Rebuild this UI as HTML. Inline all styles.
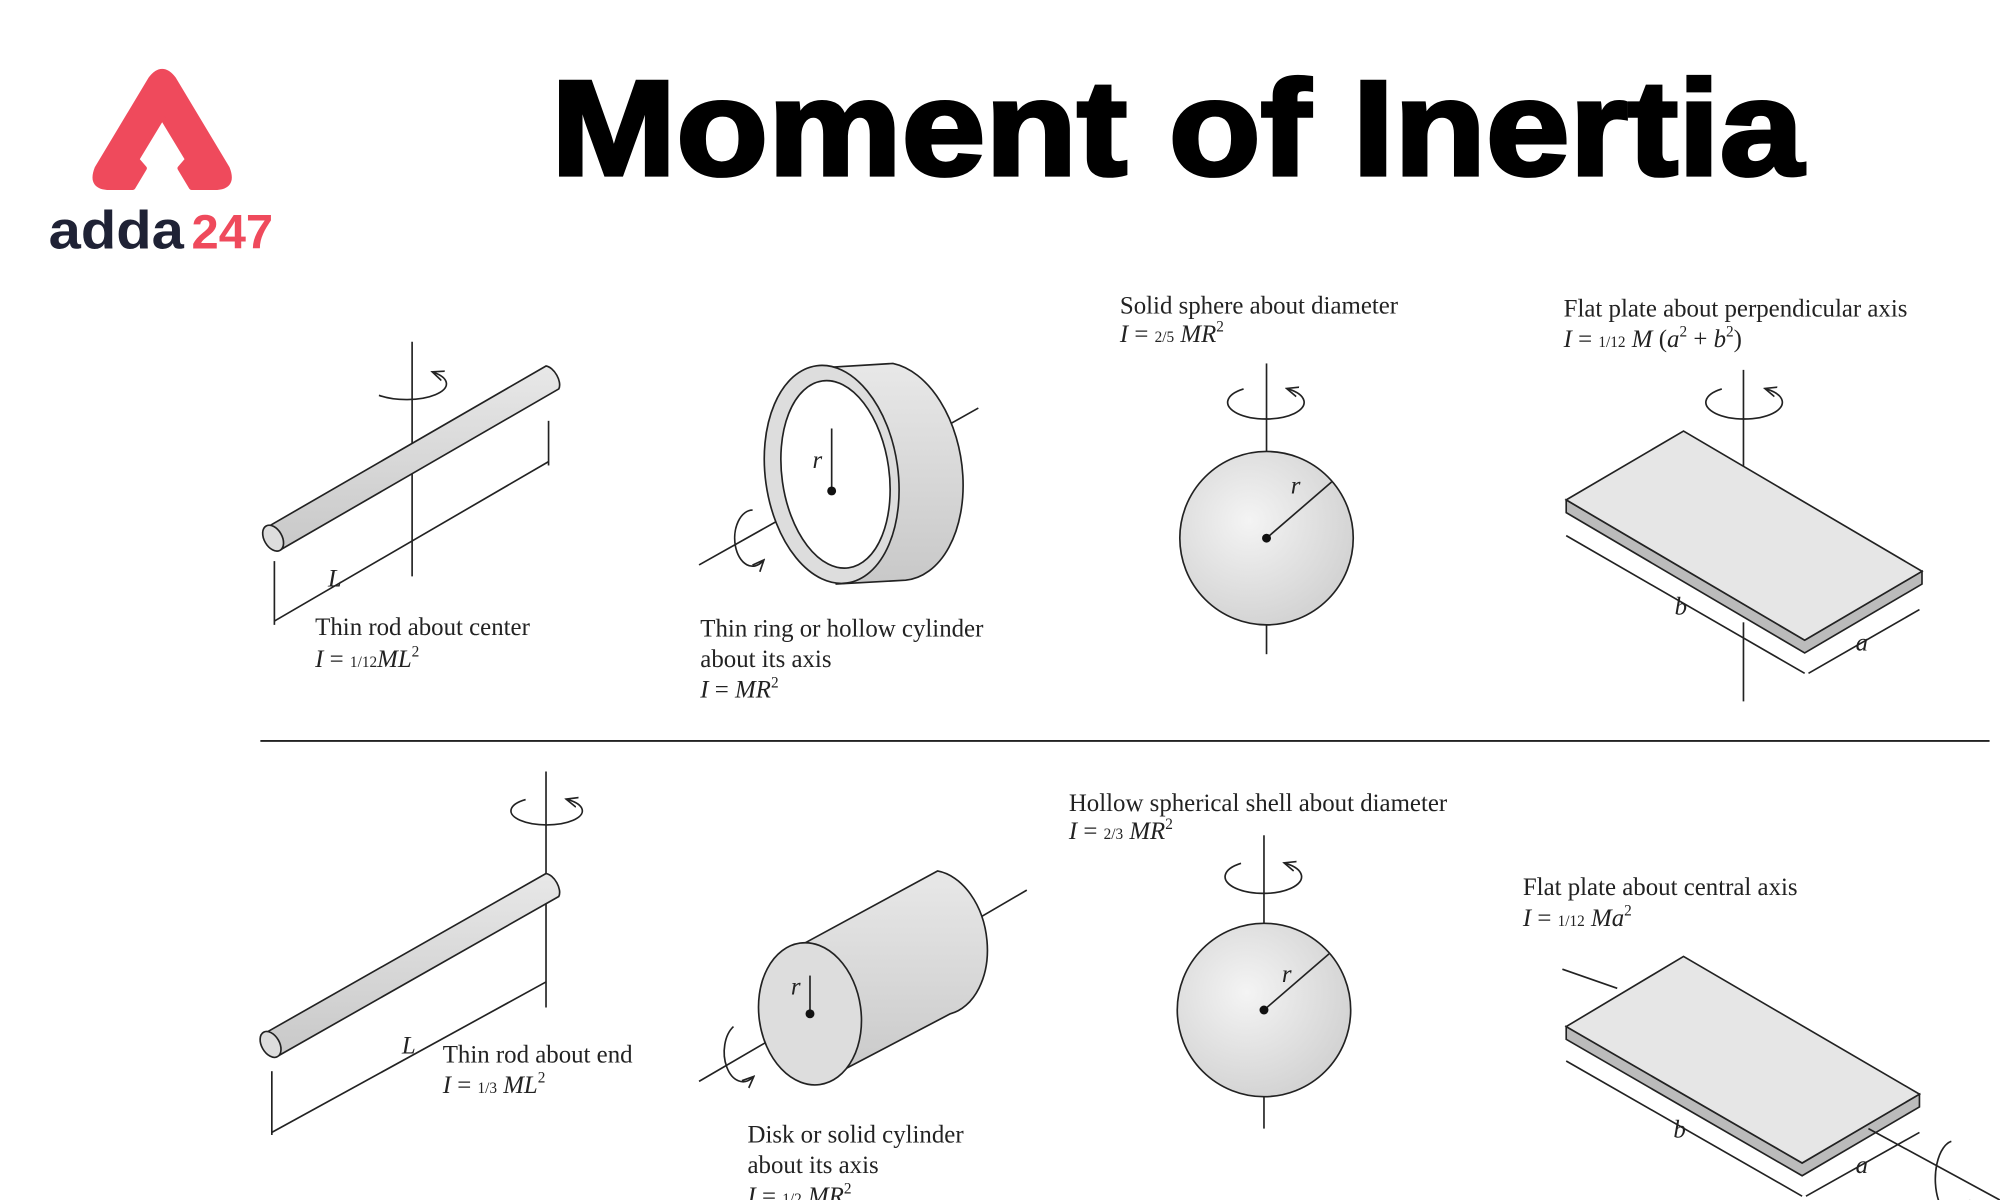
<!DOCTYPE html>
<html><head><meta charset="utf-8"><style>
html,body{margin:0;padding:0;background:#fff;}
svg{display:block}
.t{font-family:"Liberation Serif",serif;font-size:19.5px;fill:#222}
.i{font-style:italic}
.s{font-size:12px}
</style></head><body>
<svg width="2000" height="1200" viewBox="0 0 1568 941" xmlns="http://www.w3.org/2000/svg">
<defs>
<radialGradient id="sg" cx="0.4" cy="0.4" r="0.7"><stop offset="0" stop-color="#f4f4f4"/><stop offset="1" stop-color="#cfcfcf"/></radialGradient>
<linearGradient id="cg" x1="0" y1="0" x2="0" y2="1"><stop offset="0" stop-color="#e8e8e8"/><stop offset="1" stop-color="#c8c8c8"/></linearGradient>
<marker id="ah" markerWidth="8" markerHeight="8" refX="6" refY="4" orient="auto"><path d="M0,1 L7,4 L0,7" fill="none" stroke="#222" stroke-width="1"/></marker>
</defs>
<!-- logo -->
<path d="M118,62 Q127,50 136,62 L178,132 Q184,147 168,147 L150,147 L141,132 L147,125 L127,92 L107,125 L113,132 L104,147 L86,147 Q70,147 76,132 Z" fill="#ef4a5c" stroke="#ef4a5c" stroke-width="4" stroke-linejoin="round"/>
<text x="38" y="195" font-family="Liberation Sans,sans-serif" font-weight="bold" font-size="42" fill="#1f2235" textLength="106" lengthAdjust="spacingAndGlyphs">adda</text>
<text x="150" y="195" font-family="Liberation Sans,sans-serif" font-weight="bold" font-size="38" fill="#ef4a5c" textLength="64" lengthAdjust="spacingAndGlyphs">247</text>
<!-- title -->
<text x="432" y="137" font-family="Liberation Sans,sans-serif" font-weight="bold" font-size="106" fill="#000" stroke="#000" stroke-width="3" textLength="982" lengthAdjust="spacingAndGlyphs">Moment of Inertia</text>

<g stroke="#222" stroke-width="1.3" fill="none">
<!-- rod 1 -->
<line x1="323" y1="268" x2="323" y2="452"/>
<path d="M210,413 L428,287 A6,11 -30 0 1 438,305 L220,431" fill="url(#cg)"/>
<ellipse cx="214" cy="422" rx="7" ry="11" transform="rotate(-30 214 422)" fill="#ddd"/>
<path d="M297,310 A28,11 0 1 0 340,292" marker-end="url(#ah)"/>
<line x1="215" y1="487" x2="430" y2="362"/><line x1="215" y1="440" x2="215" y2="490"/><line x1="430" y1="330" x2="430" y2="365"/>
<!-- ring -->
<line x1="548" y1="443" x2="767" y2="320"/>
<path d="M650,288 L700,285 A55,86 -8 0 1 710,455 L655,458" fill="url(#cg)"/>
<ellipse cx="652" cy="372" rx="52" ry="86" transform="rotate(-8 652 372)" fill="#ddd"/>
<ellipse cx="655" cy="372" rx="42" ry="74" transform="rotate(-8 655 372)" fill="#fff"/>
<line x1="652" y1="385" x2="652" y2="336"/>
<path d="M590,400 A14,22 0 1 0 598,440" marker-end="url(#ah)"/>
<!-- sphere 1 -->
<line x1="993" y1="285" x2="993" y2="365"/><line x1="993" y1="480" x2="993" y2="513"/>
<circle cx="993" cy="422" r="68" fill="url(#sg)"/>
<line x1="993" y1="422" x2="1044" y2="378"/>
<path d="M975,305 A30,13 0 1 0 1010,305" marker-end="url(#ah)"/>
<!-- plate 1 -->
<line x1="1367" y1="290" x2="1367" y2="418"/>
<path d="M1228,392 L1228,402 L1415,512 L1507,458 L1507,448 L1415,502 Z" fill="#bbb"/>
<path d="M1228,392 L1320,338 L1507,448 L1415,502 Z" fill="#e6e6e6"/>
<line x1="1367" y1="488" x2="1367" y2="550"/>
<path d="M1350,305 A30,13 0 1 0 1385,305" marker-end="url(#ah)"/>
<line x1="1228" y1="420" x2="1415" y2="528"/><line x1="1418" y1="528" x2="1505" y2="478"/>
<!-- divider -->
<line x1="204" y1="581" x2="1560" y2="581" stroke-width="1.5"/>
<!-- rod 2 -->
<line x1="428" y1="605" x2="428" y2="790"/>
<path d="M208,810 L428,685 A6,11 -30 0 1 438,703 L218,828" fill="url(#cg)"/>
<ellipse cx="212" cy="819" rx="7" ry="11" transform="rotate(-30 212 819)" fill="#ddd"/>
<path d="M412,627 A28,11 0 1 0 445,627" marker-end="url(#ah)"/>
<line x1="213" y1="888" x2="428" y2="770"/><line x1="213" y1="840" x2="213" y2="890"/>
<!-- disk -->
<line x1="548" y1="848" x2="805" y2="698"/>
<path d="M630,740 L735,683 A40,57 -8 0 1 745,795 L640,850" fill="url(#cg)"/>
<ellipse cx="635" cy="795" rx="40" ry="56" transform="rotate(-8 635 795)" fill="#ddd"/>
<line x1="635" y1="795" x2="635" y2="765"/>
<path d="M575,805 A14,22 0 1 0 590,845" marker-end="url(#ah)"/>
<!-- sphere 2 -->
<line x1="991" y1="655" x2="991" y2="735"/><line x1="991" y1="850" x2="991" y2="885"/>
<circle cx="991" cy="792" r="68" fill="url(#sg)"/>
<line x1="991" y1="792" x2="1042" y2="748"/>
<path d="M973,677 A30,13 0 1 0 1008,677" marker-end="url(#ah)"/>
<!-- plate 2 -->
<line x1="1225" y1="760" x2="1268" y2="775"/>
<path d="M1228,805 L1228,815 L1413,922 L1505,868 L1505,858 L1413,912 Z" fill="#bbb"/>
<path d="M1228,805 L1320,750 L1505,858 L1413,912 Z" fill="#e6e6e6"/>
<line x1="1465" y1="885" x2="1568" y2="941"/>
<line x1="1228" y1="832" x2="1413" y2="938"/><line x1="1416" y1="938" x2="1505" y2="888"/>
<path d="M1530,895 A15,30 0 1 0 1545,941"/>
</g>
<g fill="#111"><circle cx="652" cy="385" r="3.5"/><circle cx="993" cy="422" r="3.5"/><circle cx="635" cy="795" r="3.5"/><circle cx="991" cy="792" r="3.5"/></g>

<g class="t">
<text x="257" y="460" class="i">L</text>
<text x="247" y="498">Thin rod about center</text>
<text x="247" y="523"><tspan class="i">I</tspan> =  <tspan class="s">1/12</tspan><tspan class="i">ML</tspan><tspan class="s" dy="-8">2</tspan></text>
<text x="637" y="367" class="i">r</text>
<text x="549" y="499">Thin ring or hollow cylinder</text>
<text x="549" y="523">about its axis</text>
<text x="549" y="547"><tspan class="i">I</tspan> = <tspan class="i">MR</tspan><tspan class="s" dy="-8">2</tspan></text>
<text x="878" y="246">Solid sphere about diameter</text>
<text x="878" y="268"><tspan class="i">I</tspan> = <tspan class="s">2/5</tspan> <tspan class="i">MR</tspan><tspan class="s" dy="-8">2</tspan></text>
<text x="1012" y="387" class="i">r</text>
<text x="1226" y="248">Flat plate about perpendicular axis</text>
<text x="1226" y="272"><tspan class="i">I</tspan> = <tspan class="s">1/12</tspan> <tspan class="i">M</tspan> (<tspan class="i">a</tspan><tspan class="s" dy="-8">2</tspan><tspan dy="8"> + </tspan><tspan class="i">b</tspan><tspan class="s" dy="-8">2</tspan><tspan dy="8">)</tspan></text>
<text x="1313" y="482" class="i">b</text>
<text x="1455" y="510" class="i">a</text>
<text x="315" y="826" class="i">L</text>
<text x="347" y="833">Thin rod about end</text>
<text x="347" y="857"><tspan class="i">I</tspan> =  <tspan class="s">1/3</tspan> <tspan class="i">ML</tspan><tspan class="s" dy="-8">2</tspan></text>
<text x="620" y="780" class="i">r</text>
<text x="586" y="896">Disk or solid cylinder</text>
<text x="586" y="920">about its axis</text>
<text x="586" y="944"><tspan class="i">I</tspan> = <tspan class="s">1/2</tspan> <tspan class="i">MR</tspan><tspan class="s" dy="-8">2</tspan></text>
<text x="838" y="636">Hollow spherical shell about diameter</text>
<text x="838" y="658"><tspan class="i">I</tspan> = <tspan class="s">2/3</tspan> <tspan class="i">MR</tspan><tspan class="s" dy="-8">2</tspan></text>
<text x="1005" y="770" class="i">r</text>
<text x="1194" y="702">Flat plate about central axis</text>
<text x="1194" y="726"><tspan class="i">I</tspan> = <tspan class="s">1/12</tspan> <tspan class="i">Ma</tspan><tspan class="s" dy="-8">2</tspan></text>
<text x="1312" y="892" class="i">b</text>
<text x="1455" y="920" class="i">a</text>
</g>
</svg>
</body></html>
